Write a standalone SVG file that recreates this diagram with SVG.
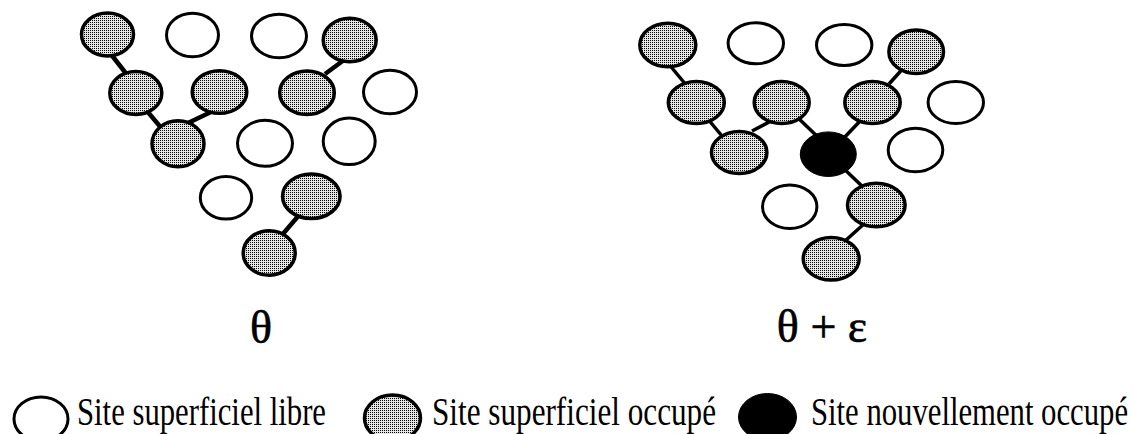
<svg xmlns="http://www.w3.org/2000/svg" width="1134" height="434" viewBox="0 0 1134 434">
<defs>
<pattern id="dots" width="2" height="2" patternUnits="userSpaceOnUse">
<rect width="2" height="2" fill="#e6e6e6"/>
<rect width="1" height="1" fill="#000"/>
</pattern>
</defs>
<style>
.free{fill:#fff;stroke:#000;stroke-width:3}
.occ{fill:url(#dots);stroke:#000;stroke-width:3.5}
.new{fill:#000;stroke:#000;stroke-width:1}
.bondL{stroke:#000;stroke-width:4.5;stroke-linecap:butt}
.bondR{stroke:#000;stroke-width:3.5;stroke-linecap:butt}
.lbl{font-family:"Liberation Serif","Times New Roman",serif;fill:#000;stroke:#000;stroke-width:0.6}
.leg{font-family:"Liberation Serif","Times New Roman",serif;font-size:40px;fill:#000}
</style>
<rect width="1134" height="434" fill="#fff"/>
<g id="connectors">
<line class="bondL" x1="110" y1="53" x2="128" y2="76"/>
<line class="bondL" x1="147" y1="111" x2="163" y2="130"/>
<line class="bondL" x1="188" y1="123" x2="211" y2="112"/>
<line class="bondL" x1="344" y1="60" x2="325" y2="74"/>
<line class="bondL" x1="300" y1="214" x2="282" y2="235"/>
<line class="bondR" x1="667" y1="62" x2="687" y2="86"/>
<line class="bondR" x1="707" y1="118" x2="722" y2="136"/>
<line class="bondR" x1="752" y1="131" x2="775" y2="119"/>
<line class="bondR" x1="796" y1="116" x2="820" y2="139"/>
<line class="bondR" x1="862" y1="119" x2="841" y2="141"/>
<line class="bondR" x1="907" y1="64" x2="889" y2="84"/>
<line class="bondR" x1="841" y1="166" x2="863" y2="187"/>
<line class="bondR" x1="865" y1="223" x2="845" y2="241"/>
</g>
<g id="left-lattice">
<g id="L-A"><ellipse class="occ" cx="107.5" cy="34.5" rx="26" ry="21.5"/></g>
<g id="L-B"><ellipse class="free" cx="192.5" cy="35" rx="26" ry="21.8"/></g>
<g id="L-C"><ellipse class="free" cx="279" cy="36" rx="27.5" ry="21.8"/></g>
<g id="L-D"><ellipse class="occ" cx="349.7" cy="40" rx="26.5" ry="21.8"/></g>
<g id="L-E"><ellipse class="occ" cx="135.8" cy="93" rx="26" ry="21.5"/></g>
<g id="L-F"><ellipse class="occ" cx="219.5" cy="92" rx="27.3" ry="21.3"/></g>
<g id="L-G"><ellipse class="occ" cx="307" cy="92.7" rx="27.3" ry="21.8"/></g>
<g id="L-H"><ellipse class="free" cx="390" cy="92" rx="26.5" ry="21.8"/></g>
<g id="L-I"><ellipse class="occ" cx="178" cy="143.8" rx="26" ry="23"/></g>
<g id="L-J"><ellipse class="free" cx="265" cy="143.3" rx="27.5" ry="23"/></g>
<g id="L-K"><ellipse class="free" cx="349.2" cy="141.3" rx="26" ry="23.3"/></g>
<g id="L-L"><ellipse class="free" cx="226" cy="197.8" rx="25.7" ry="21.3"/></g>
<g id="L-M"><ellipse class="occ" cx="311.3" cy="196.3" rx="28.8" ry="22.2"/></g>
<g id="L-N"><ellipse class="occ" cx="269.2" cy="253" rx="26" ry="22.2"/></g>
</g>
<g id="right-lattice">
<g id="R-A"><ellipse class="occ" cx="667.8" cy="45" rx="28" ry="21.8"/></g>
<g id="R-B"><ellipse class="free" cx="755.8" cy="43.3" rx="27.7" ry="20.5"/></g>
<g id="R-C"><ellipse class="free" cx="844.2" cy="45" rx="27.7" ry="20.5"/></g>
<g id="R-D"><ellipse class="occ" cx="916.2" cy="51.7" rx="27.3" ry="21.8"/></g>
<g id="R-E"><ellipse class="occ" cx="696.3" cy="102.5" rx="28" ry="21"/></g>
<g id="R-F"><ellipse class="occ" cx="781.7" cy="102.5" rx="27.5" ry="21"/></g>
<g id="R-G"><ellipse class="occ" cx="872.5" cy="102.5" rx="27.7" ry="21"/></g>
<g id="R-H"><ellipse class="free" cx="955.8" cy="102.5" rx="27.7" ry="21"/></g>
<g id="R-I"><ellipse class="occ" cx="739.2" cy="152.5" rx="27.7" ry="21"/></g>
<g id="R-X"><ellipse class="new" cx="828.3" cy="154.2" rx="28" ry="22.3"/></g>
<g id="R-K"><ellipse class="free" cx="915.5" cy="150" rx="27.3" ry="21.8"/></g>
<g id="R-L"><ellipse class="free" cx="789.7" cy="206.7" rx="27.2" ry="21.8"/></g>
<g id="R-M"><ellipse class="occ" cx="876.3" cy="205" rx="28.8" ry="21.8"/></g>
<g id="R-N"><ellipse class="occ" cx="831.2" cy="258.8" rx="28" ry="21.3"/></g>
</g>
<g id="captions">
<text class="lbl" x="261" y="343" font-size="46" text-anchor="middle">θ</text>
<text class="lbl" x="822" y="342" font-size="46" text-anchor="middle">θ + ε</text>
</g>
<g id="legend">
<g id="leg-free"><ellipse class="free" cx="41" cy="419" rx="27" ry="22"/><text class="leg" x="77" y="425" textLength="249" lengthAdjust="spacingAndGlyphs">Site superficiel libre</text></g>
<g id="leg-occ"><ellipse class="occ" cx="392.5" cy="418" rx="28" ry="23"/><text class="leg" x="432" y="425" textLength="284" lengthAdjust="spacingAndGlyphs">Site superficiel occupé</text></g>
<g id="leg-new"><ellipse class="new" cx="767.5" cy="417" rx="29" ry="23.5"/><text class="leg" x="811" y="425" textLength="317" lengthAdjust="spacingAndGlyphs">Site nouvellement occupé</text></g>
</g>
</svg>
